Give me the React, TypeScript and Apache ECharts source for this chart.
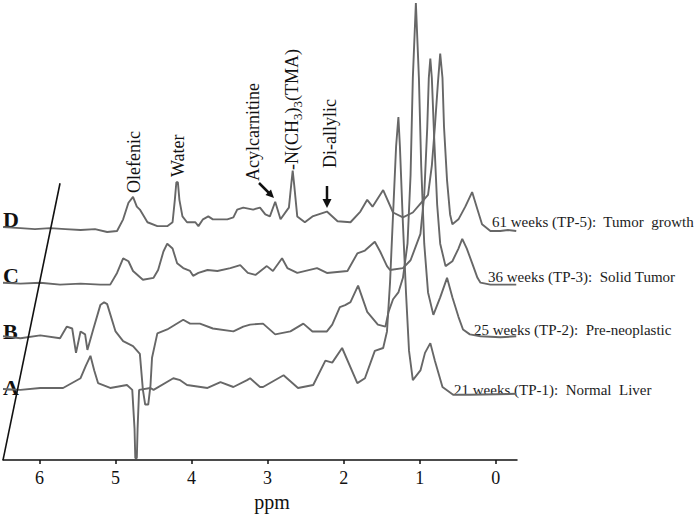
import React, { useEffect, useRef } from "react";
import * as echarts from "echarts";

const ppmTicks = [0, 1, 2, 3, 4, 5, 6];
const traceLetters = ["A", "B", "C", "D"];
const traceOffsets = [72, 127, 182, 237];
const traceLabels = [
  "21 weeks (TP-1):  Normal  Liver",
  "25 weeks (TP-2):  Pre-neoplastic",
  "36 weeks (TP-3):  Solid Tumor",
  "61 weeks (TP-5):  Tumor  growth",
];
const slantLine = [
  [6.48, 0],
  [5.73, 284],
];

const spectrumA = [
  [6.48, 1], [6.25, 0], [5.99, 2], [5.69, 2], [5.46, 12], [5.39, 25], [5.33, 35], [5.28, 20], [5.23, 7],
  [5.07, 2], [4.85, 5], [4.78, 0], [4.75, -40], [4.74, -70], [4.72, -70], [4.71, -40], [4.69, 0], [4.54, 2],
  [4.50, 0], [4.24, 12], [4.15, 10], [4.06, 5], [3.79, 2], [3.62, 8], [3.45, 3], [3.27, 10], [3.23, 12],
  [3.10, 3], [3.06, 3], [2.79, 15], [2.60, 2], [2.40, 5], [2.24, 30], [2.15, 28], [2.02, 43], [1.82, 7],
  [1.72, 12], [1.59, 40], [1.48, 43], [1.43, 60], [1.39, 110], [1.35, 180], [1.31, 250], [1.28, 280],
  [1.26, 250], [1.22, 170], [1.18, 100], [1.14, 40], [1.09, 10], [0.99, 20], [0.93, 38], [0.86, 48],
  [0.80, 30], [0.70, 3], [0.56, -5], [0.34, -5], [-0.27, -4],
];

const spectrumB = [
  [6.48, 0], [6.25, -2], [5.99, 1], [5.73, -2], [5.64, 10], [5.57, 8], [5.52, -17], [5.46, 5], [5.40, 2],
  [5.37, -14], [5.29, 8], [5.20, 32], [5.15, 35], [5.11, 33], [5.00, 5], [4.90, -5], [4.77, -10], [4.68, -18],
  [4.64, -55], [4.61, -70], [4.57, -70], [4.54, -50], [4.52, -22], [4.45, 3], [4.32, 7], [4.11, 17], [4.02, 13],
  [3.89, 13], [3.72, 8], [3.45, 5], [3.32, 10], [3.23, 12], [3.06, 13], [2.90, 2], [2.70, 5], [2.53, 13],
  [2.41, 5], [2.22, 5], [2.15, 12], [2.05, 30], [1.98, 32], [1.91, 35], [1.81, 52], [1.69, 25], [1.55, 12],
  [1.45, 10], [1.41, 25], [1.35, 38], [1.28, 45], [1.22, 60], [1.16, 95], [1.12, 165], [1.09, 265],
  [1.05, 342], [1.01, 265], [0.98, 175], [0.94, 95], [0.89, 45], [0.82, 22], [0.73, 40], [0.64, 60],
  [0.57, 40], [0.49, 20], [0.43, 7], [0.34, 2], [0.20, 0], [-0.06, -1], [-0.27, 0],
];

const spectrumC = [
  [6.48, 0], [6.25, -1], [5.99, 0], [5.73, -2], [5.46, -1], [5.20, -2], [5.07, -2], [4.98, 10], [4.90, 25],
  [4.83, 22], [4.77, 12], [4.64, 3], [4.50, 5], [4.44, 13], [4.37, 32], [4.32, 40], [4.25, 35], [4.19, 20],
  [4.11, 15], [4.02, 12], [3.98, 7], [3.91, 10], [3.79, 13], [3.66, 12], [3.49, 15], [3.36, 18], [3.26, 10],
  [3.16, 8], [3.01, 17], [2.93, 12], [2.81, 25], [2.74, 15], [2.61, 10], [2.35, 15], [2.22, 10], [1.95, 12],
  [1.82, 30], [1.72, 33], [1.59, 42], [1.52, 32], [1.43, 17], [1.39, 13], [1.22, 15], [1.12, 23], [0.99, 50],
  [0.94, 90], [0.90, 160], [0.88, 210], [0.86, 230], [0.84, 210], [0.81, 150], [0.77, 80], [0.73, 40],
  [0.66, 17], [0.57, 22], [0.49, 35], [0.44, 45], [0.38, 35], [0.31, 20], [0.24, 5], [0.20, 0], [0.07, -2],
  [-0.06, -2], [-0.27, -2],
];

const spectrumD = [
  [6.48, 2], [6.25, 1], [6.06, 0], [5.86, 1], [5.66, 0], [5.46, -1], [5.27, 0], [5.11, -3], [4.98, -2],
  [4.90, 10], [4.83, 27], [4.77, 33], [4.72, 23], [4.68, 20], [4.58, 7], [4.45, 3], [4.32, 3], [4.25, 7],
  [4.22, 30], [4.20, 48], [4.18, 48], [4.16, 30], [4.12, 13], [4.06, 7], [3.95, 7], [3.91, 3], [3.85, 10],
  [3.78, 13], [3.72, 10], [3.53, 10], [3.45, 12], [3.40, 20], [3.32, 22], [3.19, 20], [3.10, 22], [3.03, 15],
  [2.97, 13], [2.90, 28], [2.83, 10], [2.74, 20], [2.72, 22], [2.69, 45], [2.67, 60], [2.65, 45], [2.61, 13],
  [2.51, 7], [2.41, 13], [2.22, 18], [2.08, 8], [1.91, 7], [1.78, 18], [1.69, 30], [1.62, 23], [1.48, 40],
  [1.35, 17], [1.22, 12], [1.09, 17], [0.97, 28], [0.89, 35], [0.84, 65], [0.80, 105], [0.76, 150],
  [0.73, 180], [0.70, 155], [0.68, 105], [0.64, 50], [0.60, 15], [0.57, 5], [0.49, 10], [0.40, 23],
  [0.31, 38], [0.24, 20], [0.18, 5], [0.07, -2], [-0.06, -2], [-0.16, -1], [-0.27, -2],
];

const spectra = [spectrumA, spectrumB, spectrumC, spectrumD];

const SERIF = '"Liberation Serif", "Times New Roman", serif';
const TRACE_COLOR = "#676767";
const INK = "#111111";

export default function App() {
  const ref = useRef<HTMLDivElement>(null);

  useEffect(() => {
    if (!ref.current) return;
    const chart = echarts.init(ref.current, undefined, { renderer: "svg" });

    const traceSeries = spectra.map((s, i) => ({
      name: traceLetters[i],
      type: "line",
      data: s.map(([p, v]) => [p, v + traceOffsets[i]]),
      showSymbol: false,
      symbol: "none",
      lineStyle: { color: TRACE_COLOR, width: 1.9 },
      z: 3,
    }));

    const letterY = [387, 331, 275, 219];
    const labelPos = [
      [454, 390],
      [474, 330],
      [488, 277],
      [492, 222],
    ];

    const rotatedText = (text: string, x: number, y: number) => ({
      type: "text",
      x,
      y,
      rotation: Math.PI / 2,
      style: {
        text,
        font: `18px ${SERIF}`,
        fill: INK,
        align: "left",
        verticalAlign: "middle",
      },
    });

    const option: any = {
      animation: false,
      backgroundColor: "#ffffff",
      grid: { left: 3, right: 183, top: 0, bottom: 45 },
      xAxis: {
        type: "value",
        min: -0.28,
        max: 6.48,
        inverse: true,
        axisLine: { lineStyle: { color: INK, width: 1.5 } },
        axisTick: { customValues: ppmTicks, length: 4, lineStyle: { color: INK, width: 1.5 } },
        axisLabel: {
          customValues: ppmTicks,
          color: INK,
          fontFamily: SERIF,
          fontSize: 18,
          margin: 9,
        },
        splitLine: { show: false },
        name: "ppm",
        nameLocation: "middle",
        nameGap: 23,
        nameTextStyle: {
          color: INK,
          fontFamily: SERIF,
          fontSize: 20,
          padding: [0, 0, 0, 24],
        },
      },
      yAxis: { type: "value", min: 0, max: 472, show: false },
      series: [
        ...traceSeries,
        {
          name: "slant",
          type: "line",
          data: slantLine,
          showSymbol: false,
          symbol: "none",
          lineStyle: { color: INK, width: 1.6 },
          z: 4,
        },
      ],
      graphic: [
        ...traceLetters.map((t, i) => ({
          type: "text",
          x: 3,
          y: letterY[i],
          style: { text: t, font: `bold 22px ${SERIF}`, fill: INK, align: "left", verticalAlign: "middle" },
        })),
        ...traceLabels.map((t, i) => ({
          type: "text",
          x: labelPos[i][0],
          y: labelPos[i][1],
          style: { text: t, font: `15px ${SERIF}`, fill: "#1c1c1c", align: "left", verticalAlign: "middle" },
        })),
        rotatedText("Olefenic", 134, 193),
        rotatedText("Water", 178, 177),
        rotatedText("Acylcarnitine", 253, 181),
        {
          type: "text",
          x: 292,
          y: 170,
          rotation: Math.PI / 2,
          style: {
            text: "-N(CH{s|3}){s|3}(TMA)",
            font: `18px ${SERIF}`,
            fill: INK,
            align: "left",
            verticalAlign: "middle",
            rich: {
              s: { fontSize: 13, fontFamily: SERIF, fill: INK, padding: [10, 0, 0, 0] },
            },
          },
        },
        rotatedText("Di-allylic", 330, 168),
        {
          type: "line",
          shape: { x1: 259, y1: 183, x2: 269, y2: 193 },
          style: { stroke: INK, lineWidth: 2.5 },
        },
        {
          type: "polygon",
          shape: { points: [[274, 198], [265.5, 195], [271, 189.5]] },
          style: { fill: INK },
        },
        {
          type: "line",
          shape: { x1: 327, y1: 186, x2: 327, y2: 200 },
          style: { stroke: INK, lineWidth: 2.5 },
        },
        {
          type: "polygon",
          shape: { points: [[327, 208], [322.5, 199], [331.5, 199]] },
          style: { fill: INK },
        },
      ],
    };

    chart.setOption(option);
    return () => chart.dispose();
  }, []);

  return (
    <div
      ref={ref}
      style={{ position: "absolute", left: 0, top: 0, width: 700, height: 517, background: "#fff" }}
    />
  );
}
